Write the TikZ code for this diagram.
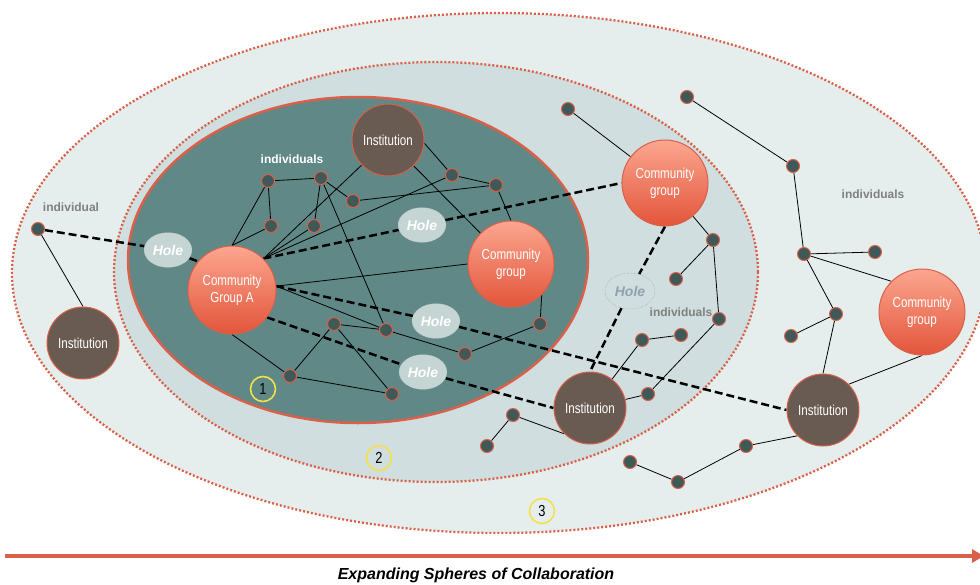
\documentclass[tikz,border=0pt]{standalone}
\usepackage{fontspec}
\setmainfont{Liberation Sans}
\newfontfamily\etroite[FakeStretch=0.8]{Liberation Sans}
\usepackage{tikz}
\usetikzlibrary{shapes.geometric}
\usetikzlibrary{arrows.meta}
\usepackage{xcolor}
\definecolor{fondext}{HTML}{E6EEED}
\definecolor{fondmil}{HTML}{D0DEDF}
\definecolor{fondint}{HTML}{5F8887}
\definecolor{rouille}{HTML}{D9614A}
\definecolor{point}{HTML}{3F5858}
\definecolor{brun}{HTML}{6A5B52}
\definecolor{cghaut}{HTML}{FCA690}
\definecolor{cgbas}{HTML}{E2553A}
\definecolor{trou}{HTML}{C5D5D4}
\definecolor{jaune}{HTML}{F5E04A}
\definecolor{grisbleu}{HTML}{8FA3AE}
\pgfdeclarelayer{fond}
\pgfdeclarelayer{liens}
\pgfsetlayers{fond,liens,main}

\begin{document}
\begin{tikzpicture}[x=1pt,y=-1pt,
    pt/.style={circle,draw=rouille,fill=point,line width=1pt,minimum size=13pt,inner sep=0pt},
    inst/.style={circle,draw=rouille,fill=brun,line width=1pt,minimum size=72pt,inner sep=0pt,
        text=white,align=center,font=\etroite\fontsize{14.5}{17}\selectfont},
    comm/.style={circle,draw=rouille,top color=cghaut,bottom color=cgbas,line width=1pt,
        minimum size=86pt,inner sep=0pt,text=white,align=center,font=\etroite\fontsize{14.5}{17}\selectfont},
    trouplein/.style={ellipse,draw=gray!60,densely dotted,fill=trou,minimum width=48pt,minimum height=35pt,
        inner sep=0pt,text=white,font=\bfseries\itshape\fontsize{14}{16}\selectfont},
    trouvide/.style={ellipse,draw=gray!90,densely dotted,minimum width=50pt,minimum height=36pt,
        inner sep=0pt,text=grisbleu,font=\bfseries\itshape\fontsize{14}{16}\selectfont},
    lien/.style={line width=0.8pt},
    pont/.style={line width=2.5pt,dash pattern=on 8pt off 4pt},
    pointille/.style={line width=2.3pt,dash pattern=on 2pt off 2pt},
    num/.style={circle,draw=jaune,line width=1.6pt,minimum size=25pt,inner sep=0pt,
        font=\etroite\fontsize{16}{18}\selectfont},
    lab/.style={font=\bfseries\fontsize{12}{14}\selectfont,text=gray}]
    \useasboundingbox (0,0) rectangle (980,584);
    % spheres
\begin{pgfonlayer}{fond}
    \filldraw[fill=fondext,draw=rouille,pointille] (499,273) ellipse (487 and 260);
    \filldraw[fill=fondmil,draw=rouille,pointille] (436,272) ellipse (322 and 210);
    \filldraw[fill=fondint,draw=rouille,line width=2.5pt] (358,260) ellipse (230 and 163);
\end{pgfonlayer}
    % groupes et institutions
    \node[inst] (InstT) at (388,140) {Institution};
    \node[inst] (InstL) at (83,343) {Institution};
    \node[inst] (InstM) at (590,408) {Institution};
    \node[inst] (InstR) at (823,410) {Institution};
    \node[comm,minimum size=88pt] (GA) at (232,290) {Community\\Group A};
    \node[comm] (CGi) at (511,264) {Community\\group};
    \node[comm] (CGm) at (665,183) {Community\\group};
    \node[comm] (CGr) at (922,312) {Community\\group};
    % trous
    \node[trouplein] (H1) at (168,250) {Hole};
    \node[trouplein] (H2) at (422,225) {Hole};
    \node[trouplein] (H3) at (436,321) {Hole};
    \node[trouplein] (H4) at (423,372) {Hole};
    \node[trouvide] (H5) at (630,291) {Hole};
    % individus, sphere 1
    \node[pt] (d1) at (268,181) {};
    \node[pt] (d2) at (321,178) {};
    \node[pt] (d3) at (271,226) {};
    \node[pt] (d4) at (314,226) {};
    \node[pt] (d5) at (353,201) {};
    \node[pt] (d6) at (452,175) {};
    \node[pt] (d7) at (496,185) {};
    \node[pt] (d8) at (334,324) {};
    \node[pt] (d9) at (386,330) {};
    \node[pt] (d10) at (465,354) {};
    \node[pt] (d11) at (540,324) {};
    \node[pt] (d12) at (290,376) {};
    \node[pt] (d13) at (392,394) {};
    % individus, sphere 2
    \node[pt] (m1) at (568,109) {};
    \node[pt] (m2) at (713,240) {};
    \node[pt] (m3) at (676,279) {};
    \node[pt] (m4) at (719,319) {};
    \node[pt] (m5) at (642,340) {};
    \node[pt] (m6) at (681,335) {};
    \node[pt] (m7) at (648,394) {};
    \node[pt] (m8) at (513,415) {};
    \node[pt] (m9) at (487,446) {};
    % individus, sphere 3
    \node[pt] (o1) at (687,97) {};
    \node[pt] (o2) at (793,166) {};
    \node[pt] (o3) at (804,254) {};
    \node[pt] (o4) at (875,252) {};
    \node[pt] (o5) at (836,314) {};
    \node[pt] (o6) at (791,336) {};
    \node[pt] (o7) at (746,446) {};
    \node[pt] (o8) at (630,462) {};
    \node[pt] (o9) at (678,482) {};
    \node[pt] (o10) at (38,229) {};
    % textes
    \node[lab,text=white] (indA) at (292,159) {individuals};
    \node[lab] (indL) at (71,207) {individual};
    \node[lab] (indM) at (681,312) {individuals};
    \node[lab] (indR) at (873,194) {individuals};
    \node[num] (n1) at (263,389) {1};
    \node[num] (n2) at (379,458) {2};
    \node[num] (n3) at (542,511) {3};
\begin{pgfonlayer}{liens}
    % liens sphere 1
    \draw[lien] (GA.north) -- (d1) -- (d3) -- (GA.north);
    \draw[lien] (d1) -- (d2) -- (d4);
    \draw[lien] (d2) -- (d5) -- (d7) -- (d6);
    \draw[lien] (d2) -- (d9);
    \draw[lien] (d7) -- (CGi.north);
    \draw[lien] (InstT.-5) -- (d6);
    \draw[lien] (InstT) -- (CGi);
    \draw[lien] (GA.45) -- (InstT);
    \draw[lien] (GA.45) -- (d4);
    \draw[lien] (GA.45) -- (d6);
    \draw[lien] (GA.5) -- (CGi.west);
    \draw[lien] (GA.5) -- (d9);
    \draw[lien] (d8) -- (d9) -- (d10) -- (d11) -- (CGi.-45);
    \draw[lien] (GA.south) -- (d12) -- (d8) -- (d13) -- (d12);
    % liens sphere 2
    \draw[lien] (m1) -- (CGm);
    \draw[lien] (CGm) -- (m2) -- (m3);
    \draw[lien] (m2) -- (m4) -- (m7) -- (InstM);
    \draw[lien] (m6) -- (m5) -- (InstM);
    \draw[lien] (m9) -- (m8) -- (InstM.-135);
    % liens sphere 3
    \draw[lien] (o1) -- (o2) -- (o3) -- (o4);
    \draw[lien] (o3) -- (CGr.135);
    \draw[lien] (o3) -- (o5) -- (o6);
    \draw[lien] (o5) -- (InstR.north);
    \draw[lien] (InstR.45) -- (CGr.south);
    \draw[lien] (InstR.-135) -- (o7) -- (o9) -- (o8);
    \draw[lien] (o10) -- (InstL.north);
    % liens par les trous
    \draw[pont] (o10) -- (H1) -- (GA.140);
    \draw[pont] (GA.45) -- (H2) -- (CGm.west);
    \draw[pont] (GA.5) -- (H3) -- (InstR.west);
    \draw[pont] (GA.-38) -- (H4) -- (InstM.west);
    \draw[pont] (CGm.south) -- (H5) -- (InstM.north);
\end{pgfonlayer}
    % fleche
    \coordinate (a0) at (5,556);
    \coordinate (a1) at (984,556);
    \draw[rouille,line width=3.5pt,-{Triangle[length=12pt,width=13pt]}] (a0) -- (a1);
    \node (titre) at (476,575) {\bfseries\itshape\fontsize{16}{18}\selectfont Expanding Spheres of Collaboration};
\end{tikzpicture}
\end{document}
